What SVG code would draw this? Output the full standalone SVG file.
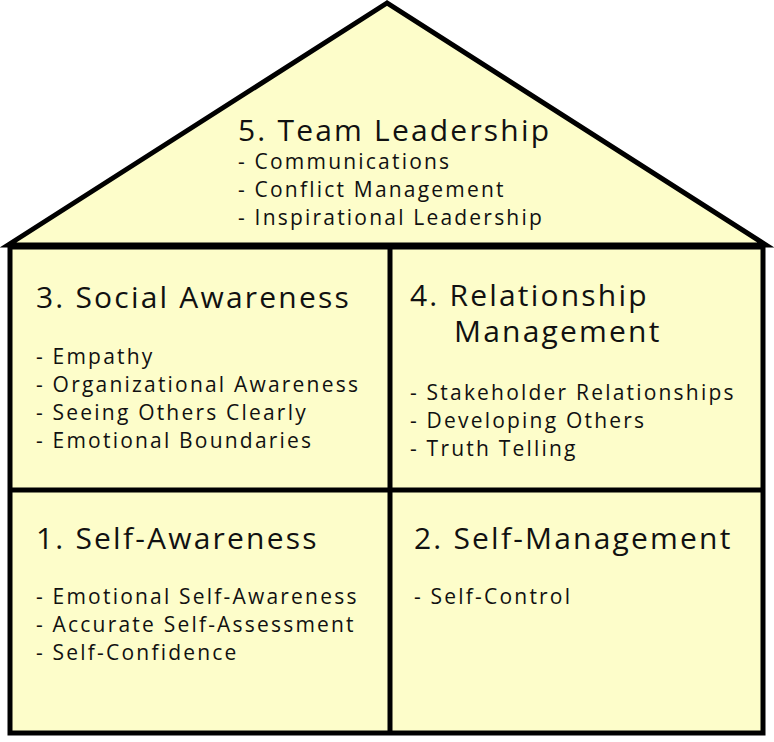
<svg xmlns="http://www.w3.org/2000/svg" width="774" height="742" viewBox="0 0 774 742">
<style>
.s{fill:#fdfdca;stroke:#000;stroke-width:5;stroke-linejoin:miter}
.h{font-family:"Open Sans","DejaVu Sans",sans-serif;font-size:30px;letter-spacing:2.2px;fill:#111}
.i{font-family:"Open Sans","DejaVu Sans",sans-serif;font-size:21px;letter-spacing:2.2px;fill:#111}
</style>
<rect width="774" height="742" fill="#fff"/>
<g id="roof"><polygon class="s" points="387,3 8,245 766,245"/>
<text class="h" x="238" y="141">5. Team Leadership</text>
<text class="i" x="238" y="169">- Communications</text>
<text class="i" x="238" y="197">- Conflict Management</text>
<text class="i" x="238" y="225">- Inspirational Leadership</text></g>
<g id="body"><rect class="s" x="10" y="247" width="753" height="486"/>
<line x1="390" y1="247" x2="390" y2="733" stroke="#000" stroke-width="5"/>
<line x1="10" y1="490" x2="763" y2="490" stroke="#000" stroke-width="5"/></g>
<g id="social"><text class="h" x="36" y="308">3. Social Awareness</text>
<text class="i" x="36" y="364">- Empathy</text>
<text class="i" x="36" y="392">- Organizational Awareness</text>
<text class="i" x="36" y="420">- Seeing Others Clearly</text>
<text class="i" x="36" y="448">- Emotional Boundaries</text></g>
<g id="relationship"><text class="h" x="410" y="306">4. Relationship</text>
<text class="h" x="454" y="342">Management</text>
<text class="i" x="410" y="400">- Stakeholder Relationships</text>
<text class="i" x="410" y="428">- Developing Others</text>
<text class="i" x="410" y="456">- Truth Telling</text></g>
<g id="selfaware"><text class="h" x="36" y="549">1. Self-Awareness</text>
<text class="i" x="36" y="604">- Emotional Self-Awareness</text>
<text class="i" x="36" y="632">- Accurate Self-Assessment</text>
<text class="i" x="36" y="660">- Self-Confidence</text></g>
<g id="selfmgmt"><text class="h" x="414" y="549">2. Self-Management</text>
<text class="i" x="414" y="604">- Self-Control</text></g>
</svg>
